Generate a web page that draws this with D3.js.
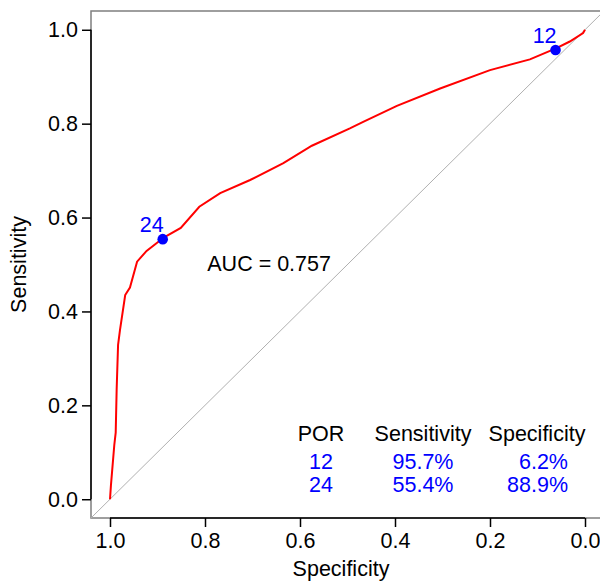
<!DOCTYPE html>
<meta charset="utf-8">

<script src="https://d3js.org/d3.v7.min.js"></script>

<style type="text/css">

body {
  margin: 0;
  background: #fff;
}

svg text {
  font-family: "Liberation Sans", Arial, Helvetica, sans-serif;
  font-size: 21.5px;
  fill: #000;
}

.axis line, .axis path {
  stroke: #000;
  stroke-width: 1.5px;
}

.box {
  fill: none;
  stroke: #7f7f7f;
  stroke-width: 1.5px;
}

.diag {
  stroke: #b0b0b0;
  stroke-width: 1px;
}

.roc {
  fill: none;
  stroke: #ff0000;
  stroke-width: 2px;
}

.cut text, .cell {
  fill: #0000ff;
}

</style>

<body></body>

<script>

// ROC curve (specificity goes 1 -> 0)
var specificity = [1.000, 0.998, 0.991, 0.988, 0.986, 0.983, 0.979, 0.968, 0.958, 0.943,
                   0.923, 0.886, 0.851, 0.812, 0.768, 0.705, 0.635, 0.575, 0.495, 0.467,
                   0.396, 0.305, 0.200, 0.116, 0.060, 0.032, 0.004, 0.000];
var sensitivity = [0.000, 0.030, 0.115, 0.142, 0.233, 0.329, 0.360, 0.435, 0.451, 0.506,
                   0.529, 0.558, 0.578, 0.623, 0.652, 0.680, 0.716, 0.753, 0.790, 0.804,
                   0.838, 0.875, 0.914, 0.937, 0.961, 0.975, 0.993, 1.000];

// cut-off points (POR)
var cutLabels = ["12", "24"];
var cutSens = [0.957, 0.554];
var cutSpec = [0.062, 0.889];

var xTicks = [1.0, 0.8, 0.6, 0.4, 0.2, 0.0];
var yTicks = [0.0, 0.2, 0.4, 0.6, 0.8, 1.0];
var tableHeader = ["POR", "Sensitivity", "Specificity"];
var aucText = "AUC = 0.757";

var width = 600, height = 581;

var svg = d3.select("body").append("svg")
    .attr("width", width)
    .attr("height", height);

// plot region (R style 4% padding on every side)
var xScale = d3.scaleLinear()
  .domain([1.04, -0.04])
  .range([91, 604]);

var yScale = d3.scaleLinear()
  .domain([-0.04, 1.04])
  .range([518, 11]);

svg.append("defs").append("clipPath")
    .attr("id", "plotClip")
  .append("rect")
    .attr("x", 91).attr("y", 11)
    .attr("width", 604 - 91).attr("height", 518 - 11);

// grey box
svg.append("rect")
  .attr("class", "box")
  .attr("x", 91).attr("y", 11)
  .attr("width", 604 - 91).attr("height", 518 - 11);

var plot = svg.append("g").attr("clip-path", "url(#plotClip)");

// chance line
plot.append("line")
  .attr("class", "diag")
  .attr("x1", xScale(1.04)).attr("y1", yScale(-0.04))
  .attr("x2", xScale(-0.04)).attr("y2", yScale(1.04));

// axes
var xAxis = d3.axisBottom(xScale)
  .tickValues(xTicks)
  .tickFormat(d3.format(".1f"))
  .tickSize(9)
  .tickSizeOuter(0)
  .tickPadding(6);

var yAxis = d3.axisLeft(yScale)
  .tickValues(yTicks)
  .tickFormat(d3.format(".1f"))
  .tickSize(9)
  .tickSizeOuter(0)
  .tickPadding(4);

var gx = svg.append("g")
    .attr("class", "x axis")
    .attr("transform", "translate(0,518)")
    .call(xAxis);
gx.select(".domain").attr("d", "M" + xScale(1) + ",0H" + xScale(0));

var gy = svg.append("g")
    .attr("class", "y axis")
    .attr("transform", "translate(91,0)")
    .call(yAxis);
gy.select(".domain").attr("d", "M0," + yScale(0) + "V" + yScale(1));

svg.selectAll(".axis text")
  .style("font-size", "21.5px")
  .style("font-family", "'Liberation Sans', Arial, sans-serif");

// axis titles
svg.append("text")
  .attr("x", 341)
  .attr("y", 576)
  .attr("text-anchor", "middle")
  .text("Specificity");

svg.append("text")
  .attr("transform", "translate(26," + yScale(0.5) + ") rotate(-90)")
  .attr("text-anchor", "middle")
  .text("Sensitivity");

// ROC curve
var rocData = specificity.map(function(d, i) { return [d, sensitivity[i]]; });

var line = d3.line()
  .x(function(d) { return xScale(d[0]); })
  .y(function(d) { return yScale(d[1]); });

plot.append("path")
  .datum(rocData)
  .attr("class", "roc")
  .attr("d", line);

// cut-off points
var cut = svg.selectAll(".cut")
  .data(cutLabels).enter().append("g")
  .attr("class", "cut")
  .attr("transform", function(d, i) { return "translate(" + xScale(cutSpec[i]) + "," + yScale(cutSens[i]) + ")"; });

cut.append("circle")
  .attr("r", 5.3)
  .style("fill", "#0000ff");

cut.append("text")
  .attr("x", 1)
  .attr("y", -7)
  .attr("text-anchor", "end")
  .text(function(d) { return d; });

// AUC
svg.append("text")
  .attr("x", xScale(0.665))
  .attr("y", 271)
  .attr("text-anchor", "middle")
  .text(aucText);

// table of cut-offs
var colX = [321, 423, 568];
var colAnchor = ["middle", "middle", "end"];

svg.selectAll(".head")
  .data(tableHeader).enter().append("text")
  .attr("class", "head")
  .attr("x", function(d, i) { return i == 2 ? 537 : colX[i]; })
  .attr("y", 441)
  .attr("text-anchor", "middle")
  .text(function(d) { return d; });

cutLabels.forEach(function(lab, r) {
  var cells = [lab, (cutSens[r] * 100).toFixed(1) + "%", (cutSpec[r] * 100).toFixed(1) + "%"];
  svg.selectAll(".row" + r)
    .data(cells).enter().append("text")
    .attr("class", "cell row" + r)
    .attr("x", function(d, i) { return colX[i]; })
    .attr("y", 469 + r * 23.4)
    .attr("text-anchor", function(d, i) { return colAnchor[i]; })
    .text(function(d) { return d; });
});

</script>
